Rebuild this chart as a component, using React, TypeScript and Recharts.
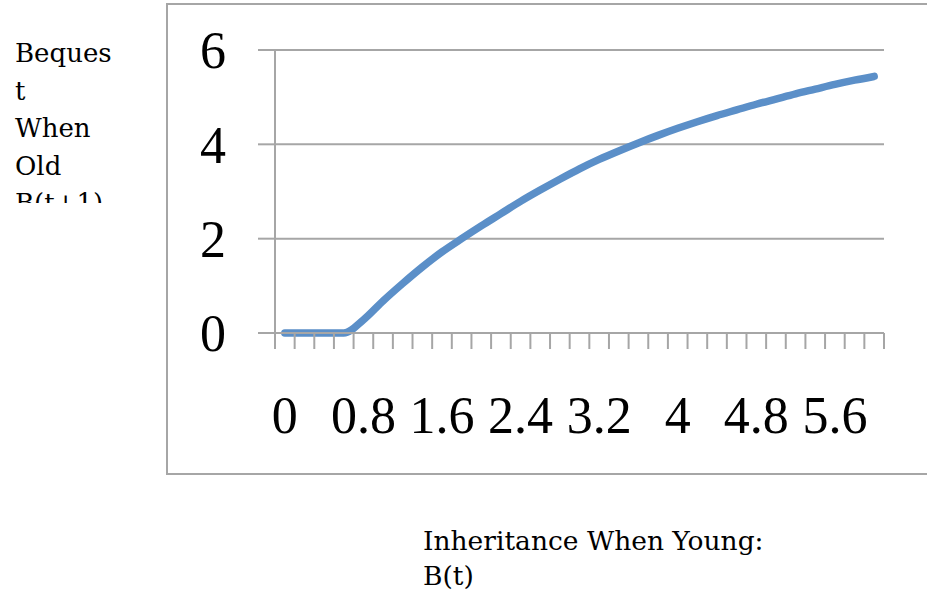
import React from 'react'
import { CartesianGrid, Line, LineChart, XAxis, YAxis } from 'recharts'

// Inheritance when young, B(t)
const inheritance = [
    '0', '0.2', '0.4', '0.6', '0.8', '1', '1.2', '1.4', '1.6', '1.8', '2', '2.2', '2.4', '2.6', '2.8', '3',
    '3.2', '3.4', '3.6', '3.8', '4', '4.2', '4.4', '4.6', '4.8', '5', '5.2', '5.4', '5.6', '5.8', '6',
]
// Bequest when old, B(t+1)
const bequest = [
    0, 0, 0, 0, 0.28, 0.68, 1.05, 1.4, 1.72, 2.0, 2.27, 2.53, 2.79, 3.03, 3.26, 3.48,
    3.68, 3.86, 4.03, 4.19, 4.34, 4.48, 4.61, 4.73, 4.85, 4.96, 5.07, 5.17, 5.27, 5.36, 5.44,
]
const yTicks = [0, 2, 4, 6]
const yTitle = ['Beques', 't', 'When', 'Old', 'B(t+1)']
const xTitle = ['Inheritance When Young:', 'B(t)']

const data = inheritance.map((b, i) => ({ b, next: bequest[i] }))

const GRID = '#a6a6a6'
const NUM_FONT = '"Liberation Serif", serif'
const TITLE_FONT = '"DejaVu Serif", serif'
const PLOT_W = 609
const STEP = PLOT_W / inheritance.length

type TickProps = { x?: number; y?: number; index?: number; payload?: { value: string } }

// Excel-style ticks sitting between categories, label on every 4th one
const XTick = ({ x = 0, y = 0, index = 0, payload }: TickProps) => {
    const left = x - STEP / 2
    return (
        <g>
            <line stroke={GRID} strokeWidth={2} x1={left} x2={left} y1={y} y2={y + 16} />
            {index === inheritance.length - 1 && (
                <line stroke={GRID} strokeWidth={2} x1={x + STEP / 2} x2={x + STEP / 2} y1={y} y2={y + 16} />
            )}
            {index % 4 === 0 && (
                <text fill="#000" fontFamily={NUM_FONT} fontSize={52} textAnchor="middle" x={x} y={y + 100}>
                    {payload?.value}
                </text>
            )}
        </g>
    )
}

export default function App() {
    return (
        <div style={{ height: 599, left: 0, overflow: 'hidden', position: 'absolute', top: 0, width: 927, background: '#fff' }}>
            <div style={{ border: `2px solid ${GRID}`, height: 468, left: 166, position: 'absolute', top: 3, width: 800 }} />
            <div style={{ left: 0, position: 'absolute', top: 0 }}>
                <LineChart data={data} height={599} margin={{ bottom: 166, left: 0, right: 43, top: 50 }} width={927}>
                    <CartesianGrid stroke={GRID} strokeWidth={2} vertical={false} />
                    <XAxis
                        axisLine={{ stroke: GRID, strokeWidth: 2 }}
                        dataKey="b"
                        height={100}
                        interval={0}
                        padding={{ left: STEP / 2, right: STEP / 2 }}
                        tick={<XTick />}
                        tickLine={false}
                        tickMargin={0}
                        tickSize={0}
                    />
                    <YAxis
                        axisLine={{ stroke: GRID, strokeWidth: 2 }}
                        domain={[0, 6]}
                        tick={{ fill: '#000', fontFamily: NUM_FONT, fontSize: 52 }}
                        tickLine={{ stroke: GRID, strokeWidth: 2 }}
                        tickMargin={32}
                        tickSize={17}
                        ticks={yTicks}
                        type="number"
                        width={275}
                    />
                    <Line
                        dataKey="next"
                        dot={false}
                        isAnimationActive={false}
                        stroke="#5b8fc8"
                        strokeLinecap="round"
                        strokeLinejoin="round"
                        strokeWidth={7.5}
                        type="monotone"
                    />
                </LineChart>
            </div>
            <svg height={599} style={{ left: 0, pointerEvents: 'none', position: 'absolute', top: 0 }} width={927}>
                <defs>
                    <clipPath id="ytitle-clip">
                        <rect height={203} width={160} x={0} y={0} />
                    </clipPath>
                </defs>
                <g clipPath="url(#ytitle-clip)" fill="#000" fontFamily={TITLE_FONT} fontSize={26}>
                    {yTitle.map((line, i) => (
                        <text key={line} x={15} y={62 + i * 37.6}>
                            {line}
                        </text>
                    ))}
                </g>
                <g fill="#000" fontFamily={TITLE_FONT} fontSize={26.5}>
                    {xTitle.map((line, i) => (
                        <text key={line} x={423} y={550 + i * 35}>
                            {line}
                        </text>
                    ))}
                </g>
            </svg>
        </div>
    )
}
